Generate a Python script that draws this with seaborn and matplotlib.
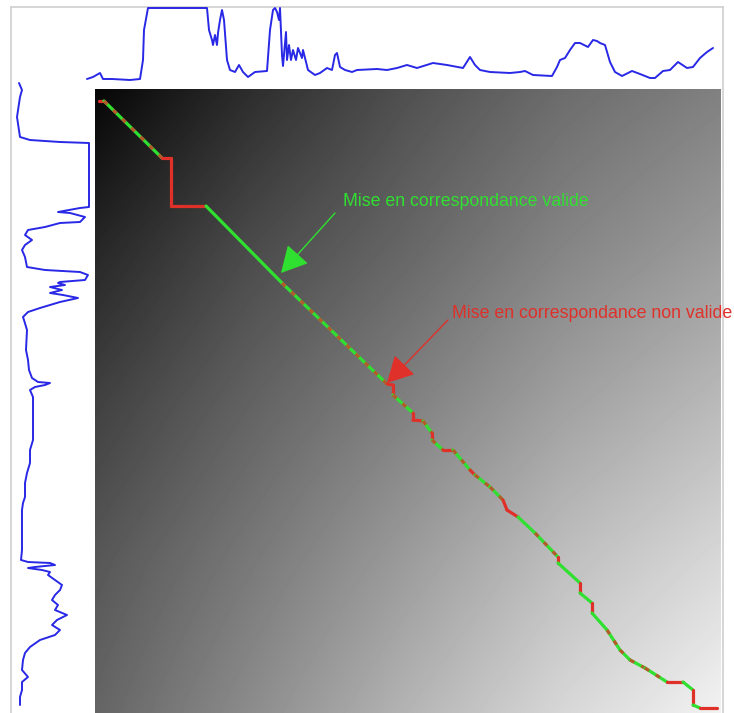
import numpy as np
import seaborn as sns
import matplotlib.pyplot as plt

sns.set_style('white')
plt.rcParams['font.family'] = ['Liberation Sans', 'DejaVu Sans']

# top signal: sample index / amplitude
top_idx = [0, 6, 13, 16, 25, 43, 53, 56, 57, 61, 120, 122, 125, 126, 128, 130, 131, 133, 135, 137,
           140, 143, 148, 152, 156, 161, 168, 180, 183, 186, 188, 190, 192, 193, 195, 196, 199, 200,
           202, 204, 206, 209, 211, 215, 216, 219, 221, 228, 233, 240, 245, 248, 250, 253, 258, 265,
           270, 290, 300, 310, 320, 330, 346, 360, 376, 383, 388, 393, 403, 423, 433, 438, 446, 465,
           470, 473, 478, 483, 488, 493, 501, 506, 510, 513, 518, 523, 528, 535, 545, 553, 563, 568,
           576, 583, 591, 600, 606, 613, 620, 626]
top_val = [1, 3, 7, 1, 1, 0, 1, 20, 50, 72, 72, 50, 40, 35, 45, 35, 47, 60, 70, 60,
           20, 10, 8, 15, 8, 3, 8, 9, 50, 70, 72, 68, 60, 72, 25, 14, 48, 20,
           35, 20, 30, 20, 32, 22, 30, 18, 10, 5, 7, 12, 10, 25, 27, 13, 10, 8,
           10, 11, 10, 12, 15, 12, 17, 15, 12, 23, 15, 10, 8, 7, 8, 9, 5, 4,
           13, 20, 22, 30, 37, 37, 33, 40, 39, 37, 35, 18, 8, 4, 9, 6, 2, 2,
           9, 10, 18, 12, 13, 22, 28, 32]

# left signal: sample index / amplitude
left_idx = [0, 7, 14, 34, 54, 57, 59, 60, 124, 125, 129, 130, 134, 139, 140, 144, 147, 152, 157, 162,
            167, 174, 184, 187, 189, 192, 197, 199, 200, 202, 204, 207, 210, 212, 215, 219, 222, 225,
            229, 234, 237, 247, 267, 277, 287, 295, 299, 300, 302, 304, 307, 314, 324, 340, 357, 367,
            380, 390, 400, 414, 420, 427, 437, 450, 467, 477, 479, 480, 482, 484, 485, 487, 489, 492,
            497, 502, 507, 512, 517, 522, 527, 532, 537, 542, 547, 552, 557, 564, 570, 577, 587, 594,
            599, 607, 614, 622]
left_val = [7, 10, 8, 5, 8, 18, 48, 77, 77, 68, 46, 58, 73, 68, 48, 33, 16, 13, 20, 13,
            10, 13, 15, 33, 68, 76, 73, 48, 46, 53, 38, 50, 38, 51, 66, 48, 38, 28,
            16, 11, 12, 15, 14, 16, 17, 20, 26, 38, 33, 23, 18, 21, 21, 21, 21, 18,
            18, 15, 13, 13, 11, 10, 10, 10, 10, 9, 16, 38, 43, 23, 16, 30, 38, 36,
            43, 50, 48, 43, 40, 46, 43, 55, 45, 40, 48, 43, 28, 18, 13, 11, 10, 16,
            10, 10, 8, 8]

# warping path (column in top signal, row in left signal)
path_col = [4, 9, 67, 76, 76, 111, 187, 292, 298, 298, 318, 318, 328, 337, 337, 348, 358, 375, 380, 395,
            408, 412, 423, 440, 463, 463, 485, 485, 497, 497, 512, 525, 535, 550, 572, 588, 598, 598,
            605, 622]
path_row = [12, 12, 69, 69, 117, 117, 194, 295, 296, 306, 324, 331, 332, 344, 351, 361, 361, 381, 386, 398,
            411, 421, 428, 444, 468, 474, 494, 504, 514, 524, 541, 561, 571, 579, 593, 593, 601, 616,
            619, 619]
# v = valid match, n = non valid, m = mixed
path_state = ['n', 'm', 'n', 'n', 'n', 'v', 'm', 'n', 'n', 'm', 'n', 'n', 'm', 'n', 'm', 'n', 'm', 'n', 'm',
              'm', 'n', 'n', 'v', 'm', 'n', 'v', 'n', 'v', 'n', 'v', 'm', 'm', 'm', 'm', 'n', 'v', 'n',
              'v', 'n']

# gray level of the cost matrix, sampled on a 5x5 grid (top->bottom, left->right)
bg_levels = [[5, 45, 80, 108, 128],
             [38, 74, 102, 132, 155],
             [64, 98, 128, 160, 185],
             [86, 120, 155, 190, 215],
             [100, 140, 180, 215, 242]]

BLUE = '#2828e6'
GREEN = '#30e030'
RED = '#e0302a'

W, H = 734, 713
fig = plt.figure(figsize=(W / 100, H / 100), dpi=100)

# light frame around the whole view
frame = fig.add_axes([11 / W, 0, 712 / W, 706 / H])
frame.set_xticks([])
frame.set_yticks([])
for s in frame.spines.values():
    s.set_color('#cfcfcf')
    s.set_linewidth(1.2)
frame.spines['bottom'].set_visible(False)

# cost matrix + path
n_cols, n_rows = 626, 624
ax = fig.add_axes([95 / W, 0, n_cols / W, n_rows / H])
bg = np.array(bg_levels)
cw = n_cols / (bg.shape[1] - 1)
ch = n_rows / (bg.shape[0] - 1)
ax.imshow(bg, cmap='gray', vmin=0, vmax=255, interpolation='bilinear', aspect='auto',
          extent=(-cw / 2, n_cols + cw / 2, n_rows + ch / 2, -ch / 2))

for k, st in enumerate(path_state):
    xs = path_col[k:k + 2]
    ys = path_row[k:k + 2]
    base = RED if st == 'n' else GREEN
    sns.lineplot(x=xs, y=ys, sort=False, estimator=None, color=base, lw=2.3, ax=ax)
    if st == 'm':
        sns.lineplot(x=xs, y=ys, sort=False, estimator=None, color=RED, lw=2.3,
                     linestyle=(0, (1.5, 2.5)), alpha=0.75, ax=ax)

head = dict(arrowstyle='-|>,head_length=0.75,head_width=0.4', mutation_scale=22, lw=1,
            shrinkA=0, shrinkB=0)
ax.annotate('', xy=(186, 184), xytext=(240, 124), arrowprops=dict(color=GREEN, **head))
ax.text(248, 113, 'Mise en correspondance valide', color=GREEN, fontsize=12.8, va='center')
ax.annotate('', xy=(292, 294), xytext=(353, 231), arrowprops=dict(color=RED, **head))
ax.text(357, 224, 'Mise en correspondance non valide', color=RED, fontsize=12.8, va='center')

ax.set_xlim(0, n_cols)
ax.set_ylim(n_rows, 0)
ax.axis('off')

# top signal
tax = fig.add_axes([87 / W, (H - 80) / H, 626 / W, 72 / H])
sns.lineplot(x=top_idx, y=top_val, sort=False, estimator=None, color=BLUE, lw=1.4,
             clip_on=False, ax=tax)
tax.set_xlim(0, 626)
tax.set_ylim(0, 72)
tax.axis('off')

# left signal
lax = fig.add_axes([12 / W, (H - 705) / H, 80 / W, 622 / H])
sns.lineplot(x=left_val, y=left_idx, sort=False, estimator=None, orient='y', color=BLUE, lw=1.4,
             clip_on=False, ax=lax)
lax.set_xlim(0, 80)
lax.set_ylim(622, 0)
lax.axis('off')

fig.savefig('out.png', dpi=100)
